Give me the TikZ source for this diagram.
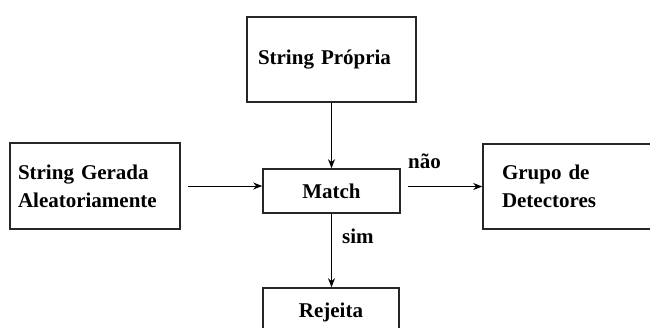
\documentclass[tikz,border=0pt]{standalone}
\usepackage{fontspec}
\setmainfont{Liberation Serif}
\usetikzlibrary{arrows.meta}
\tikzset{
  blk/.style={draw=black!85, line width=1.6pt, rectangle, inner sep=0pt,
              font=\fontsize{21}{28}\selectfont\bfseries},
  lbl/.style={inner sep=0pt, anchor=base west, font=\fontsize{21}{28}\selectfont\bfseries},
  arr/.style={draw=black, line width=1pt, -{Stealth[length=9pt,width=7pt]}}
}
\begin{document}
\begin{tikzpicture}[x=1pt,y=-1pt]
\useasboundingbox (0,0) rectangle (650,327);
\clip (0,0) rectangle (650,327);

% blocks
\node[blk, minimum width=170pt, minimum height=86pt, text width=154pt, align=left]
  (gen) at (95,186) {String Gerada\\Aleatoriamente};
\node[blk, minimum width=169pt, minimum height=85pt, text width=147pt, align=left]
  (own) at (331.5,59.5) {String Própria};
\node[blk, minimum width=137pt, minimum height=44pt]
  (match) at (331.5,191) {Match};
\node[blk, minimum width=177pt, minimum height=85pt, text width=139pt, align=left]
  (det) at (571.5,186.5) {Grupo de\\Detectores};
\node[blk, minimum width=136pt, minimum height=48pt]
  (rej) at (331,312) {Rejeita};

% connectors
\draw[arr, shorten <=7pt] (gen.east) -- (match.west |- gen.east);
\draw[arr] (own.south) -- (match.north -| own.south);
\draw[arr, shorten <=7pt] (match.east |- det.west) -- (det.west);
\draw[arr] (match.south) -- (rej.north -| match.south);

% branch labels
\node[lbl] (no) at (408,168) {não};
\node[lbl] (yes) at (342,243) {sim};
\end{tikzpicture}
\end{document}
